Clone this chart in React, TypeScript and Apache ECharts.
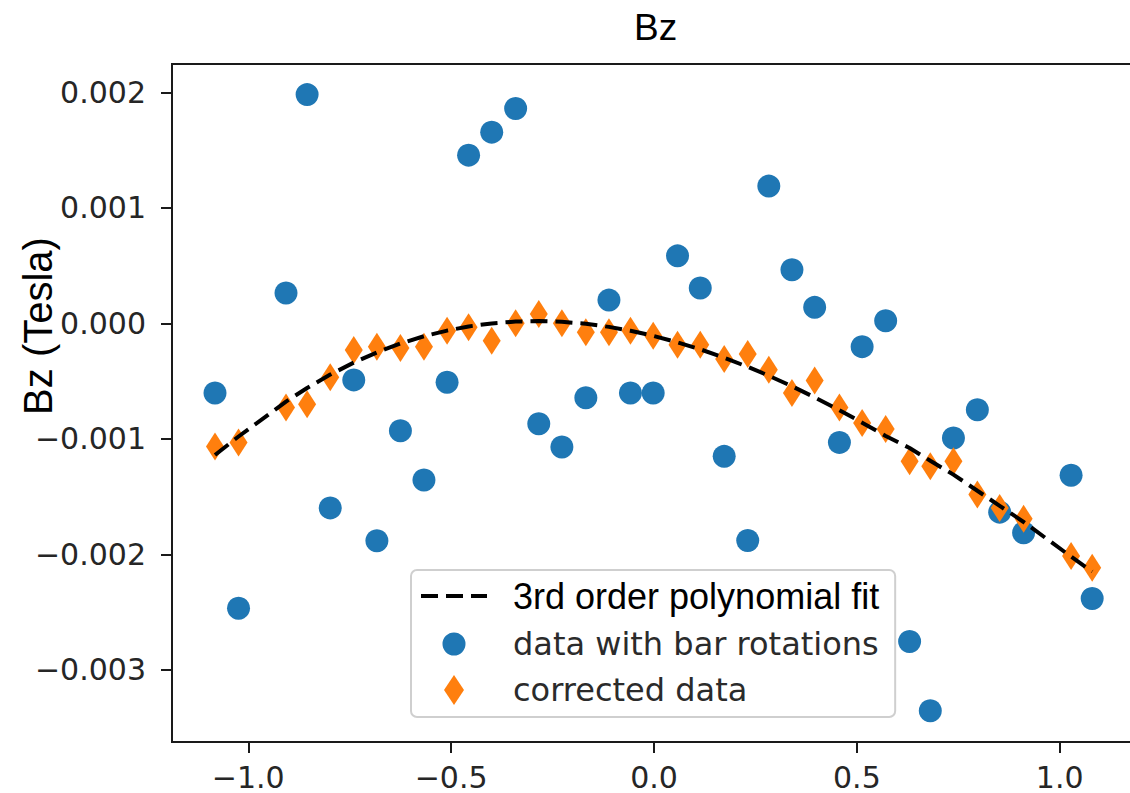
import React, { useEffect, useRef } from "react";
import * as echarts from "echarts";

// x positions of the measurements (shared by all series)
const xPositions = [
  -1.082, -1.024, -0.907, -0.855, -0.798, -0.74, -0.683, -0.625, -0.567, -0.51,
  -0.457, -0.4, -0.341, -0.284, -0.227, -0.168, -0.111, -0.058, -0.002, 0.058,
  0.114, 0.173, 0.231, 0.283, 0.34, 0.396, 0.457, 0.513, 0.571, 0.63,
  0.681, 0.738, 0.797, 0.852, 0.911, 1.028, 1.08,
];

// Bz (Tesla) – data with bar rotations
const rotatedData = [
  -0.000604, -0.002467, 0.000262, 0.00198, -0.001598, -0.00049, -0.001883, -0.00093, -0.001356, -0.00051,
  0.001456, 0.001655, 0.001859, -0.00087, -0.001071, -0.000645, 0.000201, -0.000604, -0.000604, 0.000584,
  0.000305, -0.001152, -0.00188, 0.001188, 0.000463, 0.000138, -0.001031, -0.000202, 0.000022, -0.002755,
  -0.003354, -0.000993, -0.000749, -0.001635, -0.001813, -0.001316, -0.002383,
];

// Bz (Tesla) – corrected data
const correctedData = [
  -0.001066, -0.001031, -0.00073, -0.0007, -0.000466, -0.000231, -0.000202, -0.000214, -0.000202, -0.000064,
  -0.000035, -0.00015, 0.0, 0.00008, 0.0, -0.000078, -0.000078, -0.000064, -0.000107, -0.000185,
  -0.000185, -0.000308, -0.000265, -0.000403, -0.000604, -0.000495, -0.00073, -0.000864, -0.000915, -0.001195,
  -0.001238, -0.001195, -0.001483, -0.001598, -0.001693, -0.002015, -0.002116,
];

// Bz (Tesla) – 3rd order polynomial fit
const fitValues = [
  -0.00114, -0.00098, -0.000678, -0.00056, -0.000444, -0.00034, -0.000252, -0.000175, -0.000112, -0.000063,
  -0.000027, -0.000001, 0.000015, 0.000019, 0.000013, -0.000004, -0.000031, -0.000065, -0.000108, -0.000165,
  -0.000225, -0.000298, -0.000377, -0.000454, -0.000545, -0.000641, -0.000752, -0.00086, -0.000975, -0.00108,
  -0.00119, -0.00131, -0.00145, -0.00158, -0.00172, -0.00202, -0.00215,
];

const xTicks = [-1.0, -0.5, 0.0, 0.5, 1.0];
const yTicks = [-0.003, -0.002, -0.001, 0.0, 0.001, 0.002];

const NAME_FIT = "3rd order polynomial fit";
const NAME_RAW = "data with bar rotations";
const NAME_CORR = "corrected data";
const TITLE = "Bz";
const Y_LABEL = "Bz (Tesla)";

const fmt = (v: number, d: number) => (v < 0 ? "\u2212" : "") + Math.abs(v).toFixed(d);

export default function App() {
  const ref = useRef<HTMLDivElement>(null);

  useEffect(() => {
    if (!ref.current) return;
    const chart = echarts.init(ref.current, null, { renderer: "svg" });

    const pairs = (ys: number[]) => xPositions.map((x, i) => [x, ys[i]]);
    const tickFont = { fontFamily: "DejaVu Sans", fontSize: 30, color: "#262626" };
    const axisColor = "#1a1a1a";

    chart.setOption({
      animation: false,
      backgroundColor: "#ffffff",
      title: {
        text: TITLE,
        left: 634,
        top: 9,
        padding: 0,
        textStyle: { fontFamily: "Liberation Sans", fontSize: 37, fontWeight: "normal", color: "#000" },
      },
      grid: {
        left: 172,
        top: 64,
        width: 964,
        height: 678,
        show: true,
        borderColor: axisColor,
        borderWidth: 2,
        backgroundColor: "transparent",
      },
      xAxis: {
        type: "value",
        min: -1.188,
        max: 1.188,
        axisLine: { show: true, onZero: false, lineStyle: { color: axisColor, width: 2 } },
        axisTick: { show: true, length: 11, lineStyle: { color: axisColor, width: 2 }, customValues: xTicks },
        axisLabel: { ...tickFont, margin: 20, customValues: xTicks, formatter: (v: number) => fmt(v, 1) },
        splitLine: { show: false },
      },
      yAxis: {
        type: "value",
        min: -0.003625,
        max: 0.002245,
        axisLine: { show: true, onZero: false, lineStyle: { color: axisColor, width: 2 } },
        axisTick: { show: true, length: 11, lineStyle: { color: axisColor, width: 2 }, customValues: yTicks },
        axisLabel: { ...tickFont, margin: 26, customValues: yTicks, formatter: (v: number) => fmt(v, 3) },
        splitLine: { show: false },
      },
      legend: {
        orient: "vertical",
        left: 411,
        top: 570,
        padding: [8, 16, 11, 10],
        itemGap: 14,
        itemWidth: 66,
        itemHeight: 30,
        selectedMode: false,
        backgroundColor: "rgba(255,255,255,0.8)",
        borderColor: "#cfcfcf",
        borderWidth: 2,
        borderRadius: 6,
        data: [
          {
            name: NAME_FIT,
            icon: "path://M0,0M66,30M0,13L17,13L17,17L0,17ZM25,13L42,13L42,17L25,17ZM50,13L66,13L66,17L50,17Z",
            itemStyle: { color: "#000" },
          },
          { name: NAME_RAW, icon: "path://M0,0M30,30M15,3.5A11.5,11.5,0,1,1,15,26.5A11.5,11.5,0,1,1,15,3.5Z" },
          { name: NAME_CORR, icon: "path://M10,0L20,15L10,30L0,15Z" },
        ],
        formatter: (name: string) => (name === NAME_FIT ? `{a|${name}}` : `{b|${name}}`),
        textStyle: {
          rich: {
            a: { fontFamily: "Liberation Sans", fontSize: 36, color: "#000", lineHeight: 36, padding: [0, 0, 0, 21] },
            b: { fontFamily: "DejaVu Sans", fontSize: 32, color: "#2b2b2b", lineHeight: 36, padding: [0, 0, 0, 21] },
          },
        },
      },
      graphic: [
        {
          type: "text",
          x: 38,
          y: 326,
          rotation: Math.PI / 2,
          style: {
            text: Y_LABEL,
            fontFamily: "Liberation Sans",
            fontSize: 40,
            fill: "#000",
            align: "center",
            verticalAlign: "middle",
          },
        },
      ],
      series: [
        {
          name: NAME_RAW,
          type: "scatter",
          data: pairs(rotatedData),
          symbol: "circle",
          symbolSize: 23,
          itemStyle: { color: "#1f77b4", opacity: 1 },
          z: 2,
        },
        {
          name: NAME_CORR,
          type: "scatter",
          data: pairs(correctedData),
          symbol: "diamond",
          symbolSize: [18, 28],
          itemStyle: { color: "#ff7f0e", opacity: 1 },
          z: 2,
        },
        {
          name: NAME_FIT,
          type: "line",
          data: pairs(fitValues),
          symbol: "none",
          showSymbol: false,
          lineStyle: { color: "#000", width: 4, type: [17, 8] },
          itemStyle: { color: "#000" },
          z: 3,
        },
      ],
    });

    return () => chart.dispose();
  }, []);

  return (
    <div
      style={{
        position: "fixed",
        left: 0,
        top: 0,
        width: 1130,
        height: 793,
        overflow: "hidden",
        background: "#fff",
      }}
    >
      <div ref={ref} style={{ width: 1145, height: 793 }} />
    </div>
  );
}
